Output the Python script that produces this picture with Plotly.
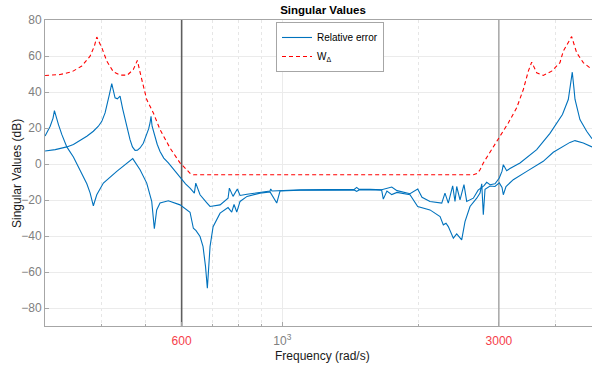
import math
import plotly.graph_objects as go

# frequencies in rad/s, magnitudes in dB
freq_a = [300.1, 308, 312.5, 314.7, 321.2, 326.8, 335.1, 346.5, 358.4, 370.9, 377.1, 383.4,
          390.1, 403.4, 431.7, 450.3, 468.2, 485.9, 502.6, 515.5, 522.4, 528.7, 537.7, 560.9,
          595.1, 626.1, 636.8, 645.5, 658.7, 668.8, 677.3, 683.6, 693.0, 703.8, 729.2, 759.3,
          773.6, 782.7, 793.6, 806.9, 836.0, 893.2, 939.5, 972.0, 988.3, 1094, 1274, 1440,
          1458, 1476, 1560, 1655, 1669, 1700, 1742, 1789, 1911, 1987, 2115, 2226, 2263, 2294,
          2321, 2381, 2422, 2484, 2526, 2591, 2681, 2726, 2750, 2772, 2796, 2868, 2941, 3006,
          3048, 3068, 3110, 3227, 3455, 3757, 3953, 4124, 4302, 4413, 4603, 4811]
db_a = [15.5, 21.0, 25.5, 29.7, 21.9, 16.3, 9.5, 3.9, -3.5, -11.0, -16.0, -23.2,
        -17.1, -10.6, -4.1, -0.4, 3.0, -3.2, -10.6, -20.8, -36.0, -25.5, -21.7, -20.4,
        -22.7, -26.8, -35.7, -37.0, -40.3, -45.9, -57.0, -69.0, -45.9, -34.8, -27.3, -24.2,
        -26.7, -22.5, -26.7, -20.8, -18.0, -16.2, -15.5, -21.7, -15.0, -14.6, -14.4, -14.4,
        -15.2, -14.4, -14.3, -14.5, -19.5, -15.0, -17.0, -15.8, -17.1, -23.6, -25.5, -29.2, -33.8, -32.9,
        -34.8, -41.2, -38.8, -42.2, -32.0, -23.6, -19.0, -16.2, -11.0, -28.2, -14.0, -12.2, -12.5, -10.5,
        -13.0, -17.1, -12.5, -8.7, -4.1, 1.5, 6.5, 9.5, 12.0, 13.0, 11.7, 9.5]

freq_b = [300.1, 316, 335.1, 346.5, 370.9, 383.4, 393.3, 400.2, 406.9, 412.5, 415.8, 420.9,
          428.0, 433.1, 439.0, 445.0, 450.3, 455.5, 461.8, 467.5, 473.7, 479.5, 485.9, 494.0,
          502.6, 507.5, 511.1, 513.7, 516.5, 520.0, 524.2, 530.0, 537.7, 548.0, 560.9, 577.0,
          595.1, 612.0, 626.1, 640.0, 644.6, 658.7, 682.6, 693.0, 729.2, 759.3, 764.4, 778.7,
          796.0, 806.9, 836.0, 893.2, 939.5, 942.8, 949.1, 1094, 1274, 1440, 1458, 1476,
          1560, 1655, 1742, 1789, 1911, 1987, 2031, 2115, 2245, 2282, 2321, 2373, 2401, 2422,
          2463, 2513, 2548, 2635, 2700, 2782, 2820, 2868, 2941, 3006, 3048, 3068, 3121, 3173,
          3339, 3634, 3887, 4141, 4266, 4302, 4353, 4390, 4413, 4525, 4683, 4811]
db_b = [7.2, 8.0, 9.5, 10.8, 15.4, 18.2, 21.0, 23.7, 28.4, 34.0, 38.6, 44.7,
        36.8, 36.2, 37.7, 30.5, 24.7, 19.0, 13.5, 9.5, 7.6, 7.7, 8.9, 11.5,
        16.3, 19.5, 22.8, 26.5, 21.0, 18.0, 15.4, 11.0, 7.0, 3.3, 0.6, -3.2,
        -7.8, -11.0, -13.4, -16.2, -10.6, -17.1, -21.7, -23.6, -22.7, -19.0, -13.4, -18.0,
        -13.9, -17.5, -16.8, -15.8, -15.0, -13.9, -15.0, -14.4, -14.1, -14.1, -13.0, -14.1,
        -14.1, -14.3, -12.8, -14.8, -16.5, -13.9, -18.5, -20.8, -21.7, -16.2, -21.7, -12.1, -20.8, -12.5,
        -19.9, -11.5, -20.8, -19.0, -14.5, -12.0, -10.2, -11.5, -11.0, -7.8, -4.0, -0.4, -3.7, -2.5,
        0.6, 8.0, 17.0, 27.5, 35.8, 42.0, 51.0, 42.0, 36.0, 24.7, 18.2, 14.0]

freq_w = [300.1, 323.9, 343.7, 361.5, 377.1, 385.4, 390.1, 400.2, 410.4, 424.4, 439.0, 455.6,
          469.6, 479.2, 490.1, 502.6, 519.8, 537.7, 565.6, 595.1, 615.6, 626.1, 636.8, 2635,
          2690, 2726, 2772, 2893, 3017, 3146, 3283, 3396, 3483, 3543, 3634, 3757, 3921, 4089,
          4158, 4339, 4451, 4603, 4811]
db_w = [49.2, 49.7, 51.2, 54.4, 59.9, 65.5, 70.5, 64.6, 57.2, 51.2, 49.4, 49.4,
        52.5, 57.5, 47.0, 35.8, 28.4, 19.1, 8.9, 0.6, -3.2, -5.2, -6.0, -6.0,
        -5.2, -3.2, 0.6, 8.0, 15.4, 22.8, 31.2, 41.4, 51.6, 56.6, 50.7, 49.2, 51.6, 56.3,
        62.7, 70.8, 61.8, 56.3, 52.5]

band_edges = [600, 3000]
x_ticks = [600, 1000, 3000]
x_ticktext = ['<span style="color:#f5404a">600</span>', '10<sup>3</sup>',
              '<span style="color:#f5404a">3000</span>']
x_minor = [400, 500, 700, 800, 900, 2000, 4000]
y_ticks = [-80, -60, -40, -20, 0, 20, 40, 60, 80]
y_range = [-90, 80]
x_range = [300, 4811]

blue = "#0072BD"

fig = go.Figure()

# band edge markers
for f, col, w in zip(band_edges, ["#5e5e5e", "#8c8c8c"], [1.6, 1.1]):
    fig.add_trace(go.Scatter(x=[f, f], y=y_range, mode="lines",
                             line=dict(color=col, width=w), showlegend=False,
                             hoverinfo="skip"))

fig.add_trace(go.Scatter(x=freq_a, y=db_a, mode="lines", name="Relative error",
                         line=dict(color=blue, width=1.1), legendgroup="re"))
fig.add_trace(go.Scatter(x=freq_b, y=db_b, mode="lines", name="Relative error",
                         line=dict(color=blue, width=1.1), legendgroup="re",
                         showlegend=False))
fig.add_trace(go.Scatter(x=freq_w, y=db_w, mode="lines", name="W<sub>Δ</sub>",
                         line=dict(color="#ff0000", width=1.1, dash="4px,3px")))

fig.update_layout(
    width=592, height=367,
    margin=dict(l=45, r=0, t=20, b=41),
    paper_bgcolor="white", plot_bgcolor="white",
    font=dict(family="Liberation Sans, Arial, sans-serif", size=12, color="#262626"),
    title=dict(text="<b>Singular Values</b>", x=0.5456, xanchor="center",
               y=1 - 10 / 367, yanchor="middle",
               font=dict(size=11.5, color="#000000")),
    legend=dict(x=0.4223, y=0.9935, xanchor="left", yanchor="top",
                bgcolor="white", bordercolor="#a6a6a6", borderwidth=1,
                font=dict(size=10, color="#000000"), tracegroupgap=0,
                itemwidth=30),
    showlegend=True,
    annotations=[
        dict(text="Frequency (rad/s)", xref="paper", yref="paper",
             x=0.5073, y=-0.098, xanchor="center", yanchor="middle",
             showarrow=False, font=dict(size=12, color="#1a1a1a")),
        dict(text="Singular Values (dB)", xref="paper", yref="paper",
             x=-0.0512, y=0.5, xanchor="center", yanchor="middle", textangle=-90,
             showarrow=False, font=dict(size=12, color="#1a1a1a")),
    ],
)

fig.update_xaxes(
    type="log", range=[math.log10(x_range[0]), math.log10(x_range[1])],
    tickvals=x_ticks, ticktext=x_ticktext,
    tickfont=dict(size=12, color="#808080"),
    ticks="inside", ticklen=4, tickcolor="#a6a6a6", ticklabelstandoff=4,
    showgrid=True, gridcolor="#ebebeb", gridwidth=1,
    minor=dict(tickvals=x_minor, showgrid=True, griddash="dot",
               gridcolor="#e6e6e6", ticks="inside", ticklen=2, tickcolor="#a6a6a6"),
    showline=True, linecolor="#a6a6a6", linewidth=1, mirror=True,
    zeroline=False,
)
fig.update_yaxes(
    range=y_range, tickvals=y_ticks,
    tickfont=dict(size=12, color="#808080"),
    ticks="inside", ticklen=4, tickcolor="#a6a6a6",
    showgrid=True, gridcolor="#ebebeb", gridwidth=1,
    showline=True, linecolor="#a6a6a6", linewidth=1, mirror=False,
    zeroline=False,
)

# drop the page's default body margin so the figure sits at the window origin
fig.write_html("out.html", config={"displayModeBar": False},
               post_script="document.body.style.margin='0px';")
